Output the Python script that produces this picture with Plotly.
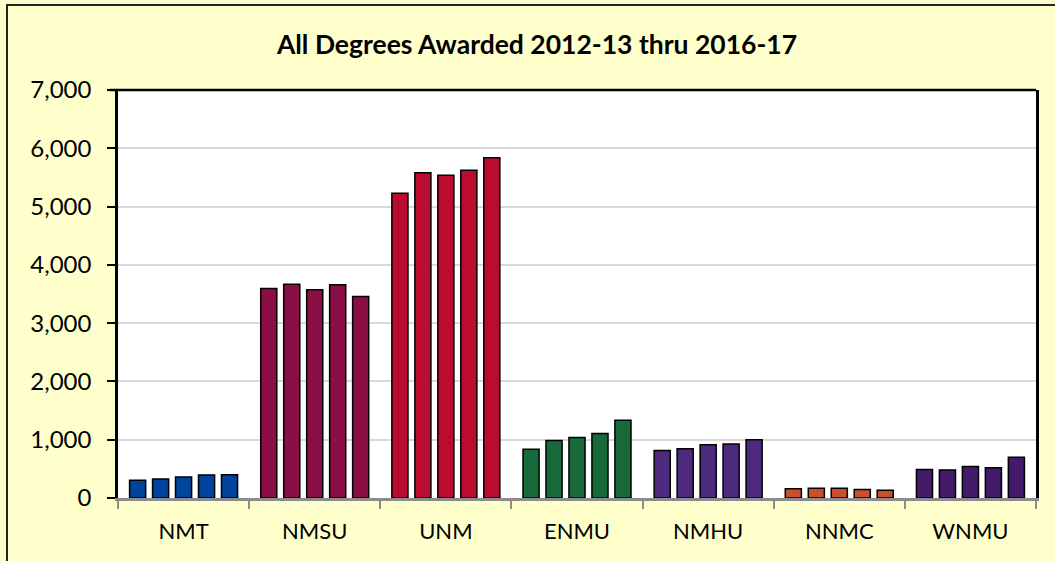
import plotly.graph_objects as go

# degrees awarded per institution, one value per academic year
years = ["2012-13", "2013-14", "2014-15", "2015-16", "2016-17"]
institutions = ["NMT", "NMSU", "UNM", "ENMU", "NMHU", "NNMC", "WNMU"]

nmt = [303, 327, 361, 396, 401]
nmsu = [3594, 3668, 3572, 3657, 3457]
unm = [5229, 5580, 5538, 5624, 5837]
enmu = [838, 988, 1040, 1105, 1332]
nmhu = [813, 843, 913, 925, 1000]
nnmc = [157, 168, 168, 145, 133]
wnmu = [489, 482, 541, 517, 698]

colors = ["#00449E", "#8B0E45", "#BA0C2F", "#186A3B", "#4E2A7E", "#C8502C", "#441A6B"]

all_vals = [nmt, nmsu, unm, enmu, nmhu, nnmc, wnmu]

fig = go.Figure()
for i, yr in enumerate(years):
    fig.add_trace(go.Bar(
        x=institutions,
        y=[v[i] for v in all_vals],
        name=yr,
        marker=dict(color=colors, line=dict(color="black", width=1.5)),
    ))

fig.update_layout(
    width=1055, height=561,
    barmode="group", bargap=0.124, bargroupgap=0.3,
    showlegend=False,
    paper_bgcolor="#FFFFCC",
    plot_bgcolor="white",
    margin=dict(l=118, r=19, t=90, b=63),
    font=dict(family="Lato", size=22, color="black"),
    title=dict(text="<b>All Degrees Awarded 2012-13 thru 2016-17</b>",
               x=0.509, xanchor="center", y=0.92, yanchor="middle",
               font=dict(size=26.5, color="black")),
    shapes=[
        # outer chart border
        dict(type="rect", xref="paper", yref="paper",
             x0=-0.1209, x1=1.5, y0=-1, y1=1.2083,
             line=dict(color="#222222", width=2), layer="below"),
        # top border of plot area
        dict(type="line", xref="paper", yref="paper",
             x0=-0.009, x1=1, y0=1, y1=1,
             line=dict(color="black", width=2.5)),
    ],
)

fig.update_yaxes(
    range=[0, 7000], dtick=1000, tickformat=",",
    tickfont=dict(size=24),
    showgrid=True, gridcolor="#D9D9D9", gridwidth=1.5,
    showline=True, linecolor="black", linewidth=2.5, mirror=True,
    ticks="outside", ticklen=8, tickwidth=2, tickcolor="black",
    ticklabelstandoff=11, zeroline=False,
)
fig.update_xaxes(
    showline=True, linecolor="#8C8C8C", linewidth=2.5,
    ticks="outside", tickson="boundaries", ticklen=8, tickwidth=2,
    tickcolor="#8C8C8C", ticklabelstandoff=12,
)

fig.write_html("out.html", config={"displayModeBar": False},
               post_script="document.body.style.margin='0';")
